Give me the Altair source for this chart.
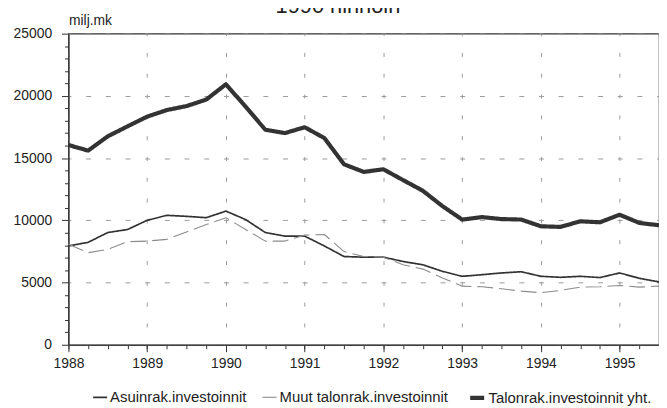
import altair as alt
import pandas as pd

# ---------------- data ----------------
quarters = [1988.0, 1988.25, 1988.5, 1988.75,
            1989.0, 1989.25, 1989.5, 1989.75,
            1990.0, 1990.25, 1990.5, 1990.75,
            1991.0, 1991.25, 1991.5, 1991.75,
            1992.0, 1992.25, 1992.5, 1992.75,
            1993.0, 1993.25, 1993.5, 1993.75,
            1994.0, 1994.25, 1994.5, 1994.75,
            1995.0, 1995.25, 1995.5]

series_names = ["Asuinrak.investoinnit", "Muut talonrak.investoinnit", "Talonrak.investoinnit yht."]

asuin = [7940, 8230, 9020, 9260, 10000, 10400, 10320, 10210, 10740, 10060, 9020, 8730,
         8730, 7940, 7090, 7040, 7040, 6690, 6430, 5900, 5500, 5630, 5770, 5870,
         5500, 5420, 5500, 5400, 5770, 5340, 5050]
muut = [8070, 7400, 7670, 8280, 8330, 8470, 9070, 9660, 10210, 9260, 8330, 8330,
        8810, 8860, 7490, 7090, 7040, 6430, 6080, 5370, 4710, 4660, 4500, 4310,
        4180, 4370, 4630, 4660, 4760, 4630, 4710]
yht = [16050, 15600, 16750, 17550, 18330, 18860, 19180, 19700, 20930, 19130, 17280, 17010,
       17480, 16610, 14500, 13890, 14100, 13230, 12380, 11140, 10060, 10260, 10100, 10060,
       9520, 9470, 9920, 9840, 10450, 9790, 9600]

year_ticks = [1988, 1989, 1990, 1991, 1992, 1993, 1994, 1995]
y_major = [0, 5000, 10000, 15000, 20000, 25000]
y_minor = [1000, 2000, 3000, 4000, 6000, 7000, 8000, 9000, 11000, 12000, 13000, 14000,
           16000, 17000, 18000, 19000, 21000, 22000, 23000, 24000]

rows = []
for name, vals in zip(series_names, [asuin, muut, yht]):
    for t, v in zip(quarters, vals):
        rows.append({"t": t, "value": v, "series": name})
df = pd.DataFrame(rows)

FONT = "Liberation Sans"
INK = "#333333"

xscale = alt.Scale(domain=[1988, 1995.5], nice=False, zero=False)
yscale = alt.Scale(domain=[0, 25000], nice=False)

leg = dict(orient="none", legendX=24, legendY=358, direction="horizontal", title=None,
           symbolType="stroke", symbolSize=200, labelFontSize=15, labelFont=FONT,
           labelColor="#222", labelOffset=2, columnPadding=13, labelLimit=400, padding=0)

lines = alt.Chart(df).mark_line(strokeJoin="round").encode(
    x=alt.X("t:Q", scale=xscale,
            axis=alt.Axis(values=year_ticks, format="d", title=None, grid=True,
                          gridDash=[4, 17], gridDashOffset=2, gridColor="#9a9a9a",
                          tickSize=7, labelPadding=5, labelFlush=False,
                          domainColor=INK, tickColor=INK, labelFontSize=14,
                          labelFont=FONT, labelColor="#222")),
    y=alt.Y("value:Q", scale=yscale,
            axis=alt.Axis(values=y_major, format="d", title="milj.mk", titleAngle=0,
                          titleAlign="left", titleBaseline="alphabetic", titleX=0, titleY=-9,
                          titleFontSize=14, titleFontWeight="normal", titleFont=FONT,
                          titleColor="#222", grid=True, gridDash=[5, 14.87],
                          gridDashOffset=2.5, gridColor="#9a9a9a", tickSize=7,
                          labelPadding=10, labelFlush=False, domainColor=INK,
                          tickColor=INK, labelFontSize=14, labelFont=FONT,
                          labelColor="#222")),
    color=alt.Color("series:N", scale=alt.Scale(domain=series_names,
                                                range=[INK, "#8c8c8c", INK]),
                    legend=alt.Legend(**leg)),
    strokeWidth=alt.StrokeWidth("series:N",
                                scale=alt.Scale(type="ordinal", domain=series_names,
                                                range=[1.7, 1.1, 4.2]),
                                legend=alt.Legend(**leg)),
    strokeDash=alt.StrokeDash("series:N", scale=alt.Scale(domain=series_names,
                                                          range=[[1, 0], [16, 6], [1, 0]]),
                              legend=alt.Legend(**leg)),
)

minor = alt.Chart(df).mark_line(strokeOpacity=0).encode(
    x=alt.X("t:Q", scale=xscale,
            axis=alt.Axis(orient="bottom", values=quarters, labels=False, grid=False,
                          domain=False, tickSize=4, title=None, tickColor=INK)),
    y=alt.Y("value:Q", scale=yscale,
            axis=alt.Axis(orient="left", values=y_minor, labels=False, grid=False,
                          domain=False, tickSize=4, title=None, tickColor=INK)),
    detail="series:N",
)

chart = alt.layer(lines, minor).resolve_axis(x="independent", y="independent").properties(
    width=596,
    height=314,
    autosize=alt.AutoSizeParams(type="none"),
    padding={"left": 61, "top": 24, "right": 0, "bottom": 68},
    title=alt.TitleParams("1990 hinnoin", anchor="start", frame="group", dx=209, dy=25,
                          offset=4, baseline="alphabetic", fontSize=22, font=FONT,
                          fontWeight="normal", color="#222"),
).configure_view(stroke=INK, strokeWidth=1.2).configure_axis(domainWidth=1.2)

chart.save("out.html", embed_options={"renderer": "svg", "actions": False})
